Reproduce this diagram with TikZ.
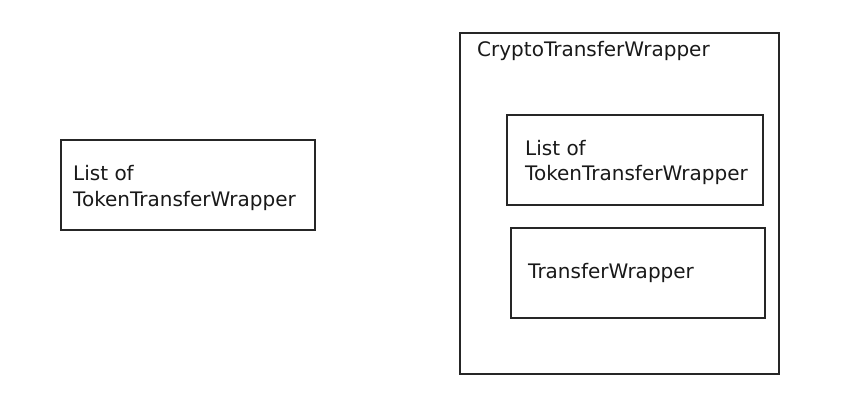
\documentclass[tikz,border=0pt]{standalone}
\usepackage{fontspec}
\setmainfont{DejaVu Sans}
\begin{document}
\begin{tikzpicture}[x=1pt,y=-1pt,
  box/.style={draw=black!85,line width=1.2pt,inner sep=0pt},
  lbl/.style={anchor=base west,inner sep=0pt,text=black!90,font=\fontsize{20}{24}\selectfont}]
\useasboundingbox[fill=white] (0,0) rectangle (865,409);
% left box
\node[box,minimum width=254pt,minimum height=90pt] (left) at (188,185) {};
\node[lbl] (l1) at (73,181) {List of};
\node[lbl] (l2) at (73,206) {TokenTransferWrapper};
% outer box
\node[box,minimum width=319pt,minimum height=341pt] (outer) at (619.5,203.5) {};
\node[lbl] (ot) at (477,57) {CryptoTransferWrapper};
% inner box 1
\node[box,minimum width=256pt,minimum height=90pt] (in1) at (635,160) {};
\node[lbl] (i1a) at (525,156) {List of};
\node[lbl] (i1b) at (525,181) {TokenTransferWrapper};
% inner box 2
\node[box,minimum width=254pt,minimum height=90pt] (in2) at (638,273) {};
\node[lbl] (i2) at (528,278) {TransferWrapper};
\end{tikzpicture}
\end{document}
